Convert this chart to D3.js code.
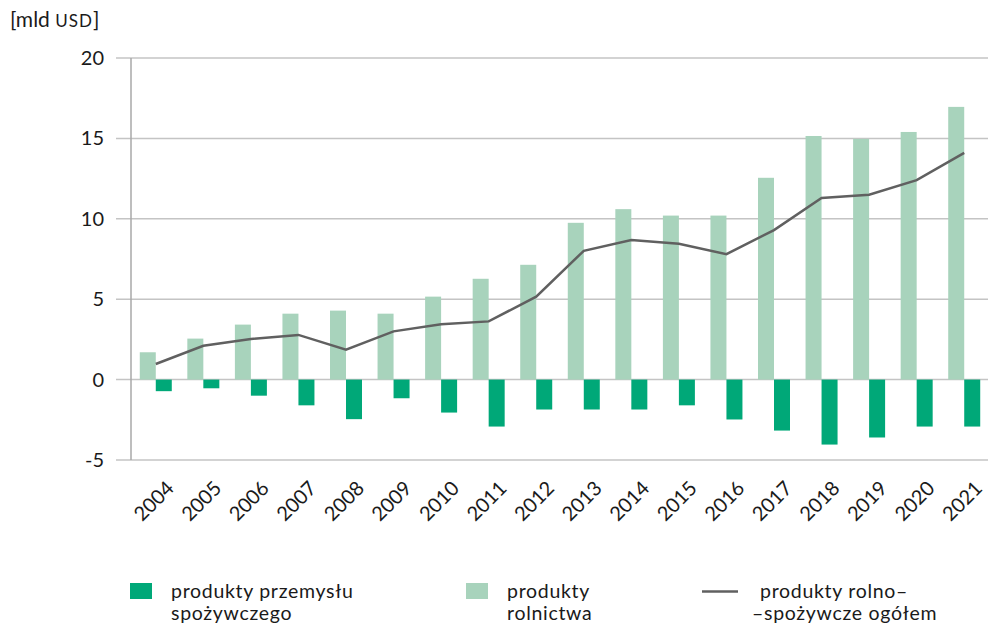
<!DOCTYPE html>
<html lang="pl">
<head>
<meta charset="utf-8" />
<title>Saldo handlu rolno-spożywczego</title>
<script src="https://d3js.org/d3.v7.min.js"></script>
<style>
  body { margin: 0; background: #fff; }
  text { font-family: Lato, "Noto Sans", sans-serif; fill: #1a1a1a; }
</style>
</head>
<body>
<script>
// dane (mld USD)
var years = ["2004","2005","2006","2007","2008","2009","2010","2011","2012",
             "2013","2014","2015","2016","2017","2018","2019","2020","2021"];
var rolnictwo = [1.7, 2.55, 3.42, 4.1, 4.29, 4.1, 5.16, 6.27, 7.14,
                 9.75, 10.6, 10.2, 10.2, 12.55, 15.15, 14.97, 15.4, 16.96];
var przemysl = [-0.72, -0.54, -1.0, -1.6, -2.46, -1.16, -2.05, -2.92, -1.86,
                -1.86, -1.86, -1.6, -2.48, -3.17, -4.04, -3.6, -2.92, -2.92];
var ogolem = [0.97, 2.1, 2.53, 2.78, 1.86, 3.0, 3.44, 3.62, 5.16,
              8.01, 8.68, 8.45, 7.8, 9.3, 11.29, 11.5, 12.4, 14.1];
var yTicks = [-5, 0, 5, 10, 15, 20];

var width = 988, height = 626;
var darkGreen = "#00a878", lightGreen = "#a8d3bc", lineGrey = "#606060";

var svg = d3.select("body").append("svg")
    .attr("width", width)
    .attr("height", height);

var x = d3.scaleBand().domain(years).range([132, 988]).padding(0);
var y = d3.scaleLinear().domain([-5, 20]).range([460, 58]);
var barW = 16;

// siatka
svg.append("g").selectAll("line")
    .data(yTicks)
    .enter().append("line")
    .attr("x1", 116).attr("x2", 988)
    .attr("y1", function (d) { return y(d); })
    .attr("y2", function (d) { return y(d); })
    .attr("stroke", "#c4c4c4")
    .attr("stroke-width", 1.5);

// oś Y
svg.append("line")
    .attr("x1", 131).attr("x2", 131)
    .attr("y1", y(20)).attr("y2", y(-5))
    .attr("stroke", "#a8a8a8")
    .attr("stroke-width", 1.5);

svg.append("g").selectAll("text")
    .data(yTicks)
    .enter().append("text")
    .attr("x", 104)
    .attr("y", function (d) { return y(d); })
    .attr("dy", "0.35em")
    .attr("text-anchor", "end")
    .style("font-size", "20px")
    .text(function (d) { return d; });

var unit = svg.append("text")
    .attr("x", 10).attr("y", 27)
    .style("font-size", "21px");
unit.append("tspan").text("[mld ");
unit.append("tspan").style("font-size", "17px").style("letter-spacing", "1px").text("USD");
unit.append("tspan").text("]");

// słupki: produkty rolnictwa
svg.append("g").selectAll("rect")
    .data(rolnictwo)
    .enter().append("rect")
    .attr("x", function (d, i) { return x(years[i]) + x.bandwidth() / 2 - barW; })
    .attr("y", function (d) { return y(d); })
    .attr("width", barW)
    .attr("height", function (d) { return y(0) - y(d); })
    .attr("fill", lightGreen);

// słupki: produkty przemysłu spożywczego
svg.append("g").selectAll("rect")
    .data(przemysl)
    .enter().append("rect")
    .attr("x", function (d, i) { return x(years[i]) + x.bandwidth() / 2; })
    .attr("y", y(0))
    .attr("width", barW)
    .attr("height", function (d) { return y(d) - y(0); })
    .attr("fill", darkGreen);

// linia ogółem
var line = d3.line()
    .x(function (d, i) { return x(years[i]) + x.bandwidth() / 2; })
    .y(function (d) { return y(d); });

svg.append("path")
    .datum(ogolem)
    .attr("d", line)
    .attr("fill", "none")
    .attr("stroke", lineGrey)
    .attr("stroke-width", 2.5);

// etykiety lat
svg.append("g").selectAll("text")
    .data(years)
    .enter().append("text")
    .attr("transform", function (d) {
        return "translate(" + (x(d) + x.bandwidth() / 2 - 2) + ",501) rotate(-45)";
    })
    .attr("text-anchor", "middle")
    .attr("dy", "0.35em")
    .style("font-size", "20px")
    .text(function (d) { return d; });

// legenda
var legend = svg.append("g").style("font-size", "19.5px").style("letter-spacing", "0.7px");

legend.append("rect").attr("x", 130).attr("y", 583).attr("width", 22).attr("height", 16).attr("fill", darkGreen);
legend.append("text").attr("x", 171).attr("y", 598).text("produkty przemysłu");
legend.append("text").attr("x", 171).attr("y", 620).text("spożywczego");

legend.append("rect").attr("x", 466).attr("y", 583).attr("width", 22).attr("height", 16).attr("fill", lightGreen);
legend.append("text").attr("x", 507).attr("y", 598).text("produkty");
legend.append("text").attr("x", 507).attr("y", 620).text("rolnictwa");

legend.append("line").attr("x1", 702).attr("x2", 738).attr("y1", 591.5).attr("y2", 591.5)
    .attr("stroke", lineGrey).attr("stroke-width", 2.5);
legend.append("text").attr("x", 760).attr("y", 598).text("produkty rolno–");
legend.append("text").attr("x", 752).attr("y", 620).text("–spożywcze ogółem");
</script>
</body>
</html>
